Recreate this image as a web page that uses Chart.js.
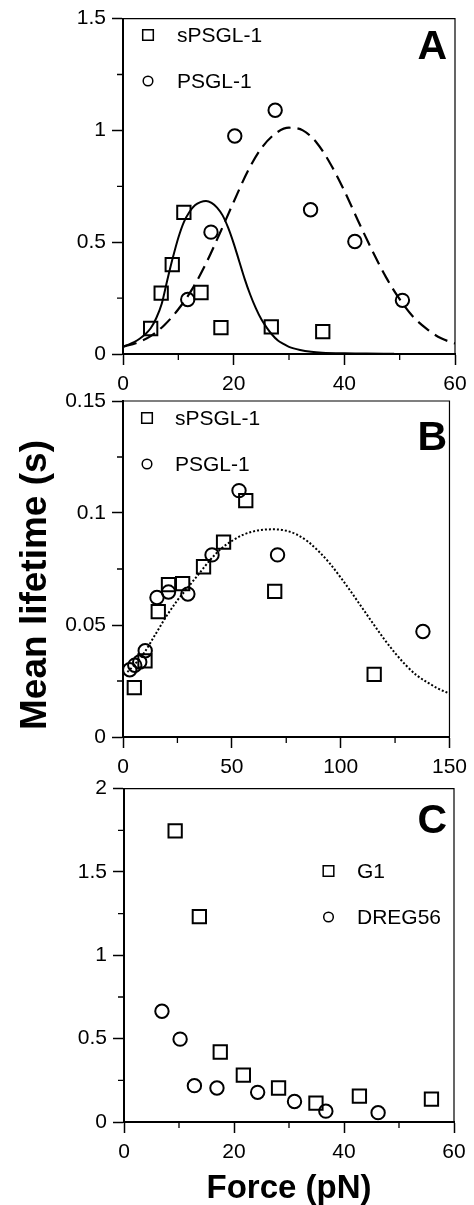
<!DOCTYPE html>
<html>
<head>
<meta charset="utf-8">
<script src="https://cdn.jsdelivr.net/npm/chart.js@4.4.1/dist/chart.umd.min.js"></script>
<style>
  body { margin: 0; background: #fff; width: 474px; height: 1205px; position: relative; overflow: hidden; }
  canvas { position: absolute; left: 0; }
</style>
</head>
<body>
<canvas id="chartA" width="474" height="398" style="top:0px"></canvas>
<canvas id="chartB" width="474" height="400" style="top:380px"></canvas>
<canvas id="chartC" width="474" height="435" style="top:770px"></canvas>
<script>
// ---- panel A ----
const aSquareX = [5, 6.9, 8.9, 11, 14.1, 17.7, 26.8, 36.1];
const aSquareY = [0.114, 0.272, 0.40, 0.633, 0.275, 0.118, 0.121, 0.10];
const aCircleX = [11.7, 15.9, 20.2, 27.5, 33.9, 41.9, 50.5];
const aCircleY = [0.244, 0.545, 0.975, 1.09, 0.645, 0.503, 0.24];
const aSolidX = [0, 1, 2, 3, 4, 5, 6, 7, 8, 9, 10, 11, 12, 13, 14, 15, 16, 17, 18, 19, 20, 21, 22, 23, 24, 25, 26, 27, 28, 29, 30, 32, 34, 36, 40, 44, 49];
const aSolidY = [0.033, 0.042, 0.053, 0.068, 0.088, 0.115, 0.16, 0.225, 0.33, 0.43, 0.52, 0.59, 0.635, 0.665, 0.679, 0.684, 0.676, 0.655, 0.62, 0.565, 0.495, 0.415, 0.335, 0.265, 0.205, 0.155, 0.117, 0.085, 0.06, 0.045, 0.032, 0.018, 0.01, 0.006, 0.003, 0.002, 0.001];
const aDashX = [0, 2.5, 5, 7.5, 10, 12.5, 15, 17.5, 20, 22.5, 25, 27.5, 30, 32.5, 35, 37.5, 40, 42.5, 45, 47.5, 50, 52.5, 55, 57.5, 60];
const aDashY = [0.033, 0.05, 0.08, 0.13, 0.2, 0.29, 0.405, 0.54, 0.68, 0.815, 0.92, 0.985, 1.012, 1.0, 0.945, 0.85, 0.73, 0.595, 0.465, 0.345, 0.245, 0.165, 0.11, 0.07, 0.047];
const aXTicks = [0, 20, 40, 60];
const aXMinor = [10, 30, 50];
const aYTicks = [0, 0.5, 1, 1.5];
const aYMinor = [0.25, 0.75, 1.25];

// ---- panel B ----
const bSquareX = [5.2, 10.1, 16.2, 20.9, 27.4, 37.0, 46.2, 56.4, 69.7, 115.4];
const bSquareY = [0.022, 0.034, 0.056, 0.068, 0.0685, 0.076, 0.087, 0.1055, 0.065, 0.028];
const bCircleX = [3.1, 5.4, 7.7, 10.2, 15.6, 20.9, 29.8, 40.9, 53.3, 71.0, 137.8];
const bCircleY = [0.030, 0.032, 0.0335, 0.0385, 0.0623, 0.0647, 0.0638, 0.0813, 0.110, 0.0813, 0.0471];
const bDotX = [2, 5, 10, 15, 20, 25, 30, 35, 40, 45, 50, 55, 60, 65, 70, 75, 80, 85, 90, 95, 100, 105, 110, 115, 120, 125, 130, 135, 140, 145, 150];
const bDotY = [0.029, 0.032, 0.038, 0.046, 0.054, 0.061, 0.067, 0.073, 0.079, 0.084, 0.0875, 0.0902, 0.0918, 0.0926, 0.0927, 0.0921, 0.0903, 0.0872, 0.0828, 0.0775, 0.0712, 0.0645, 0.0575, 0.0505, 0.0437, 0.0375, 0.032, 0.0275, 0.0243, 0.0215, 0.0194];
const bXTicks = [0, 50, 100, 150];
const bXMinor = [25, 75, 125];
const bYTicks = [0, 0.05, 0.1, 0.15];
const bYMinor = [0.025, 0.075, 0.125];

// ---- panel C ----
const cSquareX = [9.3, 13.7, 17.5, 21.7, 28.1, 34.9, 42.8, 55.9];
const cSquareY = [1.747, 1.232, 0.42, 0.281, 0.204, 0.113, 0.155, 0.137];
const cCircleX = [6.9, 10.2, 12.8, 16.9, 24.3, 31.0, 36.7, 46.2];
const cCircleY = [0.664, 0.497, 0.218, 0.204, 0.178, 0.123, 0.065, 0.056];
const cXTicks = [0, 20, 40, 60];
const cXMinor = [10, 30, 50];
const cYTicks = [0, 0.5, 1, 1.5, 2];
const cYMinor = [0.25, 0.75, 1.25, 1.75];

const pts = (xs, ys) => xs.map((x, i) => ({ x: x, y: ys[i] }));

Chart.defaults.font.family = '"Liberation Sans", Arial, sans-serif';
Chart.defaults.font.size = 21;
Chart.defaults.color = '#000';
Chart.defaults.animation = false;

// frame, minor ticks, legend and panel letter
const framePlugin = {
  id: 'frame',
  afterDatasetsDraw(chart, args, opts) {
    const ctx = chart.ctx;
    const a = chart.chartArea;
    const xs = chart.scales.x, ys = chart.scales.y;
    ctx.save();
    ctx.strokeStyle = '#000';
    ctx.lineWidth = 1.2;
    ctx.beginPath();
    ctx.moveTo(a.left, a.top);
    ctx.lineTo(a.right, a.top);
    ctx.lineTo(a.right, a.bottom);
    ctx.stroke();

    ctx.lineWidth = 1.3;
    ctx.beginPath();
    opts.xMinor.forEach(v => {
      const px = xs.getPixelForValue(v);
      ctx.moveTo(px, a.bottom);
      ctx.lineTo(px, a.bottom + 6);
    });
    opts.yMinor.forEach(v => {
      const py = ys.getPixelForValue(v);
      ctx.moveTo(a.left, py);
      ctx.lineTo(a.left - 6, py);
    });
    ctx.stroke();

    // legend
    const lg = opts.legend;
    const marks = chart.data.datasets.filter(d => !d.showLine);
    ctx.textBaseline = 'middle';
    ctx.textAlign = 'left';
    ctx.font = '21px "Liberation Sans", Arial, sans-serif';
    marks.forEach((d, i) => {
      const y = lg.y + i * lg.dy;
      ctx.lineWidth = 1.5;
      ctx.strokeStyle = '#000';
      ctx.fillStyle = 'rgba(0,0,0,0)';
      Chart.helpers.drawPoint(ctx, {
        pointStyle: d.pointStyle,
        radius: d.pointStyle === 'rect' ? 7.5 : 4.8,
        borderWidth: 1.5,
        rotation: 0
      }, lg.x, y);
      ctx.fillStyle = '#000';
      ctx.fillText(d.label, lg.tx, y + 1);
    });

    // panel letter
    ctx.fillStyle = '#000';
    ctx.font = 'bold 41px "Liberation Sans", Arial, sans-serif';
    ctx.textAlign = 'right';
    ctx.textBaseline = 'alphabetic';
    ctx.fillText(opts.letter, opts.lx, opts.ly);

    if (opts.yTitle) {
      ctx.save();
      ctx.translate(opts.yTitle.x, opts.yTitle.y);
      ctx.rotate(-Math.PI / 2);
      ctx.textAlign = 'center';
      ctx.textBaseline = 'middle';
      ctx.font = 'bold 37px "Liberation Sans", Arial, sans-serif';
      ctx.fillText(opts.yTitle.text, 0, 0);
      ctx.restore();
    }
    ctx.restore();
  }
};

function markSet(label, xs, ys, style) {
  return {
    label: label,
    data: pts(xs, ys),
    showLine: false,
    pointStyle: style,
    pointRadius: style === 'rect' ? 9.4 : 6.7,
    pointHoverRadius: style === 'rect' ? 9.4 : 6.7,
    pointBorderWidth: 2,
    pointBorderColor: '#000',
    pointBackgroundColor: 'rgba(0,0,0,0)'
  };
}

function curveSet(xs, ys, dash, width) {
  return {
    label: '',
    data: pts(xs, ys),
    showLine: true,
    borderColor: '#000',
    borderWidth: width,
    borderDash: dash,
    pointRadius: 0,
    cubicInterpolationMode: 'monotone',
    fill: false
  };
}

function axes(xMin, xMax, xTicks, yMin, yMax, yTicks, yWidth, xHeight, xTitle) {
  const tickOpts = { drawOnChartArea: false, drawTicks: true, tickLength: 11, tickWidth: 1.5, tickColor: '#000' };
  return {
    x: {
      type: 'linear', min: xMin, max: xMax,
      grid: tickOpts,
      border: { display: true, color: '#000', width: 2 },
      ticks: { padding: 7, maxRotation: 0, autoSkip: false, callback: v => String(v) },
      afterBuildTicks: s => { s.ticks = xTicks.map(v => ({ value: v })); },
      afterFit: s => { s.height = xHeight; },
      title: xTitle ? { display: true, text: xTitle, font: { size: 33, weight: 'bold', lineHeight: 1 }, padding: { top: 0, bottom: 0 } } : { display: false }
    },
    y: {
      type: 'linear', min: yMin, max: yMax,
      grid: tickOpts,
      border: { display: true, color: '#000', width: 2 },
      ticks: { padding: 6, autoSkip: false, callback: v => String(Number(v.toFixed(3))) },
      afterBuildTicks: s => { s.ticks = yTicks.map(v => ({ value: v })); },
      afterFit: s => { s.width = yWidth; }
    }
  };
}

function commonOpts(scales, padTop, padRight, frame) {
  return {
    responsive: false,
    animation: false,
    events: [],
    layout: { padding: { top: padTop, right: padRight, left: 0, bottom: 0 } },
    scales: scales,
    plugins: { legend: { display: false }, tooltip: { enabled: false }, frame: frame }
  };
}

new Chart(document.getElementById('chartA'), {
  type: 'scatter',
  data: {
    datasets: [
      markSet('sPSGL-1', aSquareX, aSquareY, 'rect'),
      markSet('PSGL-1', aCircleX, aCircleY, 'circle'),
      curveSet(aSolidX, aSolidY, [], 2),
      curveSet(aDashX, aDashY, [14, 7], 2.2)
    ]
  },
  options: commonOpts(axes(0, 60, aXTicks, 0, 1.5, aYTicks, 123, 44, null), 16, 19, {
    xMinor: aXMinor, yMinor: aYMinor,
    legend: { x: 148, y: 35, dy: 46, tx: 177 },
    letter: 'A', lx: 447, ly: 59
  }),
  plugins: [framePlugin]
});

new Chart(document.getElementById('chartB'), {
  type: 'scatter',
  data: {
    datasets: [
      markSet('sPSGL-1', bSquareX, bSquareY, 'rect'),
      markSet('PSGL-1', bCircleX, bCircleY, 'circle'),
      curveSet(bDotX, bDotY, [2, 2], 2)
    ]
  },
  options: commonOpts(axes(0, 150, bXTicks, 0, 0.15, bYTicks, 123, 43, null), 21, 19, {
    xMinor: bXMinor, yMinor: bYMinor,
    legend: { x: 147, y: 38, dy: 46, tx: 175 },
    letter: 'B', lx: 447, ly: 70,
    yTitle: { text: 'Mean lifetime (s)', x: 36, y: 205 }
  }),
  plugins: [framePlugin]
});

new Chart(document.getElementById('chartC'), {
  type: 'scatter',
  data: {
    datasets: [
      markSet('G1', cSquareX, cSquareY, 'rect'),
      markSet('DREG56', cCircleX, cCircleY, 'circle')
    ]
  },
  options: commonOpts(axes(0, 60, cXTicks, 0, 2, cYTicks, 124, 83, 'Force (pN)'), 15, 20, {
    xMinor: cXMinor, yMinor: cYMinor,
    legend: { x: 328.5, y: 101, dy: 46, tx: 357 },
    letter: 'C', lx: 447, ly: 63
  }),
  plugins: [framePlugin]
});
</script>
</body>
</html>
